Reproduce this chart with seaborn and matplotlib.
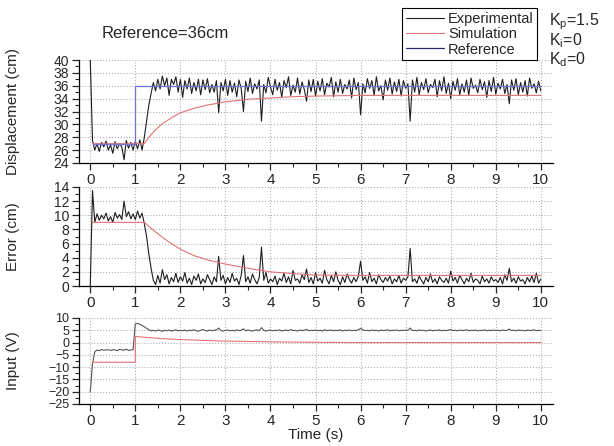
import matplotlib
matplotlib.use("Agg")
import matplotlib.pyplot as plt
import matplotlib.ticker as mticker
import numpy as np
import seaborn as sns

# ---------------------------------------------------------------------------------------------------------
# data read off the reference (sampled every 0.05 s from t = 0)
dt = 0.05

disp_exp = [40.0, 27.5, 26.0, 27.0, 25.8, 27.2, 26.5, 27.4, 26.0, 26.8,
            25.5, 27.3, 26.2, 27.0, 26.5, 24.5, 27.5, 26.3, 27.2, 26.0,
            27.4, 26.2, 27.6, 26.0, 28.0,
            30.5, 33.0, 34.8, 36.5, 35.2, 37.0, 35.5, 37.5, 36.0, 37.2, 34.5, 37.0, 36.2, 37.4, 35.0, 37.0,
            34.2, 36.8, 35.5, 37.2, 34.8, 36.5, 35.2, 37.0, 34.6, 36.9, 35.4, 37.1, 34.9, 36.2, 35.0, 36.8, 31.8, 36.5, 35.2, 37.0,
            34.5, 36.8, 35.0, 36.4, 34.3, 36.9, 35.6, 32.0, 36.7, 35.1, 37.2, 34.8, 36.3, 35.5, 36.9, 30.5, 36.2, 34.9, 37.3, 35.8,
            34.6, 37.0, 35.3, 36.5, 34.2, 36.8, 35.7, 37.4, 34.5, 36.1, 35.0, 37.2, 34.7, 36.6, 35.4, 33.6, 36.9, 35.1, 37.0, 34.4,
            36.7, 35.2, 37.1, 34.6, 36.4, 35.8, 37.3, 34.3, 36.6, 35.0, 37.0, 34.8, 36.2, 35.5, 36.9, 34.1, 37.2, 35.4, 36.5, 31.5,
            36.3, 34.9, 37.1, 35.6, 36.8, 34.5, 37.4, 35.2, 36.0, 33.8, 36.9, 35.3, 37.2, 34.7, 36.6, 35.1, 37.0, 34.4, 36.8, 35.6,
            36.3, 30.5, 36.9, 35.0, 37.3, 34.6, 36.5, 35.4, 37.1, 34.9, 36.2, 35.7, 37.0, 34.3, 36.8, 35.2, 37.4, 34.8, 36.4, 34.0,
            36.7, 35.3, 37.1, 34.6, 36.3, 35.0, 36.9, 34.5, 37.2, 35.6, 36.1, 34.9, 37.0, 35.4, 36.6, 34.2, 36.8, 35.1, 37.3, 34.7,
            36.4, 35.5, 37.0, 34.8, 36.2, 33.2, 36.9, 35.3, 37.1, 34.6, 36.5, 35.0, 36.8, 34.4, 37.2, 35.6, 36.3, 34.9, 36.7, 35.2]

err_exp = [0.0, 13.5, 9.0, 10.2, 9.3, 10.0, 9.5, 10.3, 9.2, 9.8,
           9.0, 10.4, 9.6, 10.1, 9.4, 12.0, 9.8, 10.5, 9.5, 10.2,
           9.4, 10.6, 9.6, 10.3, 8.8,
           7.0, 4.5, 2.5, 0.8, 0.2, 1.5, 0.4, 2.3, 0.9, 1.6, 0.3, 1.2, 0.6, 1.8, 0.5, 1.3,
           0.7, 1.9, 0.4, 1.1, 0.2, 1.4, 0.8, 1.7, 0.3, 1.0, 0.5, 1.6, 0.9, 0.2, 1.3, 0.6, 4.2, 0.8, 1.5, 0.3,
           1.2, 0.5, 1.8, 0.7, 1.1, 0.2, 1.5, 4.3, 0.6, 1.3, 0.4, 1.7, 0.9, 0.3, 1.2, 5.5, 0.8, 1.9, 0.4, 1.0,
           0.6, 1.4, 0.2, 1.1, 0.7, 1.8, 0.5, 1.3, 0.3, 2.2, 0.8, 1.0, 0.4, 1.6, 0.9, 2.4, 0.5, 1.2, 0.3, 1.9,
           0.7, 1.1, 0.4, 2.2, 0.9, 0.3, 1.5, 0.6, 2.0, 0.8, 0.2, 1.3, 0.5, 1.7, 0.9, 0.4, 1.2, 0.6, 1.4, 3.5,
           0.8, 1.3, 0.4, 1.9, 0.6, 1.1, 0.3, 1.6, 0.9, 0.5, 1.2, 0.7, 1.4, 0.3, 1.0, 0.6, 1.5, 0.4, 1.1, 0.8,
           1.3, 5.3, 0.6, 1.0, 0.4, 1.4, 0.8, 0.3, 1.2, 0.6, 1.7, 0.5, 1.0, 0.3, 1.3, 0.8, 0.5, 1.1, 0.4, 2.1,
           0.7, 1.2, 0.4, 1.5, 0.9, 0.3, 1.1, 0.6, 1.8, 0.5, 1.0, 0.8, 0.3, 1.4, 0.6, 1.0, 0.4, 1.3, 0.7, 0.9,
           0.5, 1.2, 0.3, 1.6, 0.8, 2.5, 0.6, 1.1, 0.4, 1.3, 0.7, 0.9, 0.3, 1.2, 0.6, 1.4, 0.5, 1.8, 0.4, 1.0]

inp_exp = [-20.0, -8.5, -3.8, -3.0, -3.3, -2.8, -3.1, -3.0, -2.9, -3.2,
           -2.9, -3.0, -3.3, -2.8, -3.0, -3.1, -2.7, -3.2, -3.0, -2.9,
           7.6, 7.8, 7.4, 7.0, 6.4, 5.8, 5.2, 4.8, 5.0, 4.7, 5.1, 4.9, 4.6, 5.0, 4.8, 5.1, 4.7, 4.9, 5.2, 4.8, 5.0,
           4.8, 5.1, 4.7, 5.0, 4.9, 5.2, 4.8, 4.6, 5.0, 5.3, 4.9, 4.7, 5.1, 4.8, 5.0, 5.2, 5.9, 4.9, 4.7, 5.0,
           5.1, 4.8, 5.0, 4.7, 5.2, 4.9, 5.0, 5.6, 4.8, 5.1, 4.9, 4.7, 5.0, 5.2, 4.8, 6.1, 5.0, 4.7, 4.9, 5.1,
           4.8, 5.0, 4.9, 5.2, 4.7, 5.0, 5.1, 4.8, 5.3, 4.9, 5.0, 4.7, 5.1, 4.9, 5.0, 5.4, 4.8, 5.0, 4.9, 5.1,
           4.8, 5.0, 4.7, 5.2, 4.9, 5.0, 5.1, 4.8, 5.0, 4.9, 5.2, 4.7, 5.0, 4.9, 5.1, 4.8, 5.0, 4.9, 5.2, 5.8,
           5.2, 4.9, 5.0, 4.8, 5.1, 4.9, 5.0, 4.7, 5.1, 4.9, 5.0, 5.2, 4.8, 5.0, 4.9, 5.1, 4.8, 5.0, 4.9, 5.1,
           5.0, 5.9, 4.9, 5.0, 4.8, 5.1, 4.9, 5.0, 4.7, 5.0, 5.1, 4.8, 5.0, 4.9, 5.2, 4.8, 5.0, 4.9, 5.1, 5.3,
           4.9, 5.0, 4.8, 5.1, 4.9, 5.0, 5.2, 4.8, 5.0, 4.9, 5.1, 4.8, 5.0, 4.9, 5.2, 4.8, 5.0, 4.9, 5.1, 4.9,
           5.0, 4.8, 5.1, 4.9, 5.0, 5.5, 4.9, 5.0, 4.8, 5.1, 4.9, 5.0, 4.8, 5.1, 4.9, 5.0, 5.2, 4.8, 5.0, 4.9]

# simulation curves (smooth, read at a few points)
disp_sim_t = [0.05, 1.2, 1.3, 1.4, 1.5, 1.6, 1.8, 2.0, 2.3, 2.6, 3.0, 3.5, 4.0, 4.5, 5.0, 6.0, 7.0, 8.0, 9.0, 10.0]
disp_sim = [27.0, 27.0, 28.0, 28.8, 29.5, 30.1, 31.0, 31.8, 32.5, 33.0, 33.5, 33.9, 34.1, 34.3, 34.4, 34.5, 34.5, 34.5, 34.5, 34.5]

err_sim_t = [0.05, 1.2, 1.4, 1.6, 1.8, 2.0, 2.3, 2.6, 3.0, 3.5, 4.0, 4.5, 5.0, 6.0, 7.0, 8.0, 9.0, 10.0]
err_sim = [9.0, 9.0, 7.9, 6.9, 6.0, 5.2, 4.3, 3.7, 3.1, 2.5, 2.0, 1.75, 1.55, 1.5, 1.5, 1.5, 1.5, 1.5]

inp_sim_t = [0.05, 1.0, 1.0, 1.3, 1.6, 2.0, 2.5, 3.0, 4.0, 5.0, 6.0, 7.0, 8.0, 9.0, 10.0]
inp_sim = [-8.0, -8.0, 2.5, 2.0, 1.6, 1.2, 0.9, 0.6, 0.3, 0.1, 0.0, 0.0, 0.0, 0.0, 0.0]

ref_t = [0.05, 1.0, 1.0, 10.0]
ref_val = [27.0, 27.0, 36.0, 36.0]

gains = [r'K$_\mathregular{p}$=1.5', r'K$_\mathregular{i}$=0', r'K$_\mathregular{d}$=0']

# ---------------------------------------------------------------------------------------------------------
sns.set_style("ticks")
plt.rcParams['font.family'] = ['Liberation Sans', 'DejaVu Sans']
plt.rcParams['mathtext.fontset'] = 'custom'
plt.rcParams['mathtext.rm'] = 'Liberation Sans'
plt.rcParams.update({'font.size': 11})

c_exp = '#1e1e1e'
c_sim = '#e07474'
c_ref = '#7070d6'

t_exp = np.arange(len(disp_exp)) * dt

fig = plt.figure(figsize=(6.14, 4.46), dpi=100)
W, H = 614.0, 446.0

def make_axes(top_px, bot_px):
    return fig.add_axes([79 / W, 1 - bot_px / H, 474 / W, (bot_px - top_px) / H])

ax1 = make_axes(60, 163)
ax2 = make_axes(187, 286)
ax3 = make_axes(318, 404)

sns.lineplot(x=t_exp, y=disp_exp, ax=ax1, color=c_exp, lw=0.8, estimator=None, sort=False, label='Experimental', legend=False)
sns.lineplot(x=disp_sim_t, y=disp_sim, ax=ax1, color=c_sim, lw=0.8, estimator=None, sort=False, label='Simulation', legend=False)
sns.lineplot(x=ref_t, y=ref_val, ax=ax1, color=c_ref, lw=0.9, estimator=None, sort=False, label='Reference', legend=False)

sns.lineplot(x=t_exp, y=err_exp, ax=ax2, color=c_exp, lw=0.8, estimator=None, sort=False, legend=False)
sns.lineplot(x=err_sim_t, y=err_sim, ax=ax2, color=c_sim, lw=0.8, estimator=None, sort=False, legend=False)

sns.lineplot(x=t_exp, y=inp_exp, ax=ax3, color='#555555', lw=0.8, estimator=None, sort=False, legend=False)
sns.lineplot(x=inp_sim_t, y=inp_sim, ax=ax3, color=c_sim, lw=0.8, estimator=None, sort=False, legend=False)

limits = [(ax1, 24, 40, 2, 1, 10), (ax2, 0, 14, 2, 1, 10), (ax3, -25, 10, 5, 2.5, 9)]
for ax, lo, hi, major, minor, ysize in limits:
    ax.set_xlim(-0.25, 10.27)
    ax.set_ylim(lo, hi)
    ax.xaxis.set_major_locator(mticker.MultipleLocator(1))
    ax.xaxis.set_minor_locator(mticker.MultipleLocator(0.5))
    ax.yaxis.set_major_locator(mticker.MultipleLocator(major))
    ax.yaxis.set_minor_locator(mticker.MultipleLocator(minor))
    ax.grid(True, which='major', color='#b0b0b0', linestyle=':', linewidth=0.8)
    ax.tick_params(which='major', direction='out', length=5, width=0.9, pad=2)
    ax.tick_params(which='minor', direction='out', length=3, width=0.8)
    ax.tick_params(axis='x', labelsize=11)
    ax.tick_params(axis='y', labelsize=ysize, pad=2)
    sns.despine(ax=ax)
    for s in ['left', 'bottom']:
        ax.spines[s].set_color('black')
        ax.spines[s].set_linewidth(0.9)
    ax.set_xlabel('')

ax1.set_ylabel('Displacement (cm)', fontsize=11)
ax2.set_ylabel('Error (cm)', fontsize=11)
ax3.set_ylabel('Input (V)', fontsize=11)
for ax in (ax1, ax2, ax3):
    ax.yaxis.set_label_coords(-0.125, 0.5)
ax3.set_xlabel('Time (s)', fontsize=11, labelpad=0)

fig.text(165 / W, 1 - 33 / H, 'Reference=36cm', ha='center', va='center', fontsize=12)

handles, labels = ax1.get_legend_handles_labels()
leg = fig.legend(handles, labels, loc='upper left', bbox_to_anchor=(402 / W, 1 - 8 / H),
                 frameon=True, fancybox=False, edgecolor='black', framealpha=1,
                 fontsize=10.5, handlelength=2.6, handletextpad=0.3, labelspacing=0.1,
                 borderpad=0.25, borderaxespad=0)
leg.get_frame().set_linewidth(0.8)
leg.get_lines()[2].set_color('#2a2a70')

for i, g in enumerate(gains):
    fig.text(549 / W, 1 - (22 + i * 19) / H, g, ha='left', va='center', fontsize=11.5)

fig.savefig('out.png', dpi=100, facecolor='white')
